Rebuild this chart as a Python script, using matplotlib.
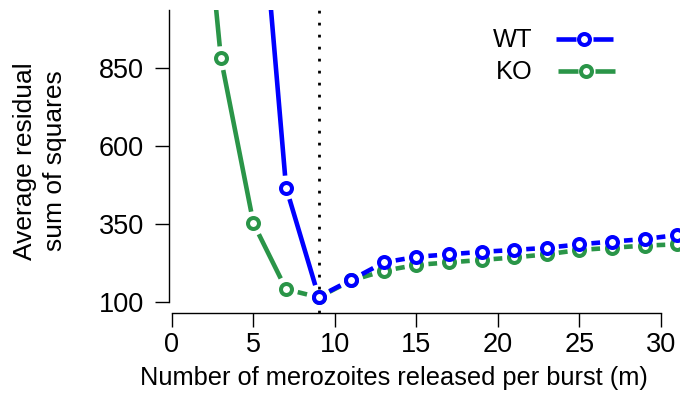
import numpy as np
import matplotlib
matplotlib.use("Agg")
import matplotlib.pyplot as plt

plt.rcParams['font.family'] = ['Liberation Sans', 'DejaVu Sans']

# m values and average residual sum of squares
m_values = [1, 3, 5, 7, 9, 11, 13, 15, 17, 19, 21, 23, 25, 27, 29, 31]
wt_rss = [np.nan, np.nan, 1700, 467, 117, 171, 227, 245, 253, 261, 267, 274, 285, 294, 302, 315]
ko_rss = [1960, 882, 352, 141, 115, 169, 200, 219, 227, 235, 243, 253, 267, 274, 281, 285]
best_m = 9

x_ticks = [0, 5, 10, 15, 20, 25, 30]
y_ticks = [100, 350, 600, 850]

blue = '#0000FF'
green = '#2A9548'

W, H = 680, 394
fig = plt.figure(figsize=(W / 100, H / 100), dpi=100)
ax = fig.add_axes([169 / W, (H - 313) / H, (W - 169) / W, (313 - 10) / H])
ax.set_xlim(-0.184, 31.17)
ax.set_ylim(64.7, 1037)

for side in ['top', 'right']:
    ax.spines[side].set_visible(False)
ax.spines['left'].set_bounds(100, 1037)
ax.spines['bottom'].set_bounds(0, 30)
for side in ['left', 'bottom']:
    ax.spines[side].set_linewidth(1.0)
ax.set_xticks(x_ticks)
ax.set_yticks(y_ticks)
ax.tick_params(axis='both', length=10, width=1.0, labelsize=19.5)
ax.tick_params(axis='y', pad=8)
ax.tick_params(axis='x', pad=4)

ax.axvline(best_m, color='black', lw=2, linestyle=(0, (1, 3.32)), zorder=1)


def plot_b(x, y, color, gap=12, z=2):
    # R style type="b": lines broken around the points
    pts = ax.transData.transform(np.column_stack([x, y]))
    inv = ax.transData.inverted()
    for p1, p2 in zip(pts[:-1], pts[1:]):
        if not (np.all(np.isfinite(p1)) and np.all(np.isfinite(p2))):
            continue
        d = p2 - p1
        L = np.hypot(*d)
        if L <= 2 * gap:
            continue
        a = inv.transform(p1 + d / L * gap)
        b = inv.transform(p2 - d / L * gap)
        ax.plot([a[0], b[0]], [a[1], b[1]], color=color, lw=3.3,
                solid_capstyle='butt', zorder=z)
    ax.plot(x, y, linestyle='none', marker='o', ms=7.9, mew=2.9,
            mfc='white', mec=color, zorder=z + 0.5)


plot_b(m_values, ko_rss, green, z=2)
plot_b(m_values, wt_rss, blue, z=3)

# legend drawn by hand to keep the gaps around the markers
def px(xp, yp):
    return xp / W, (H - yp) / H


for label, color, yp, xm in [('WT', blue, 39, 584), ('KO', green, 70.7, 586)]:
    for x0, x1 in [(xm - 28, xm - 8.5), (xm + 8.5, xm + 29)]:
        fx0, fy = px(x0, yp)
        fx1, _ = px(x1, yp)
        fig.add_artist(plt.Line2D([fx0, fx1], [fy, fy], color=color, lw=3.3,
                                  solid_capstyle='butt', transform=fig.transFigure))
    fmx, fmy = px(xm, yp)
    fig.add_artist(plt.Line2D([fmx], [fmy], marker='o', ms=7.9, mew=2.9,
                              mfc='white', mec=color, transform=fig.transFigure))
    tx, ty = px(533, yp + 1)
    fig.text(tx, ty, label, ha='right', va='center', fontsize=18.3)

tx, ty = px(394, 385)
fig.text(tx, ty, 'Number of merozoites released per burst (m)', ha='center',
         va='baseline', fontsize=18.3)
tx, ty = px(40, 161)
fig.text(tx, ty, 'Average residual\nsum of squares', rotation=90, ha='center',
         va='center', multialignment='center', fontsize=19, linespacing=1.3)

fig.savefig('out.png', dpi=100)
